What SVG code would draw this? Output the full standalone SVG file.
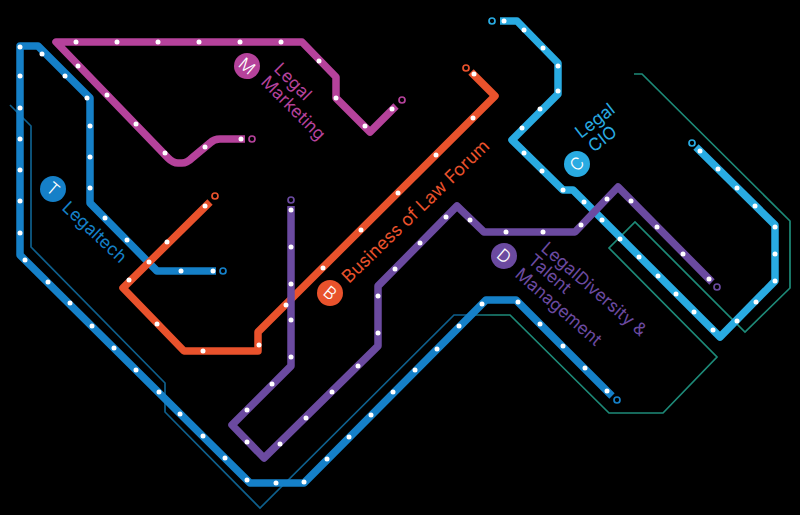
<svg xmlns="http://www.w3.org/2000/svg" width="800" height="515" viewBox="0 0 800 515">
<style>
.ln{fill:none;stroke-width:7.5;stroke-linejoin:round}
.thin{fill:none;stroke-width:1.7;stroke-linejoin:miter}
.dot{fill:#fff}
.ring{fill:none;stroke-width:1.7}
.lb{font-family:"Inter","Liberation Sans",sans-serif;font-size:17.4px;font-weight:400}
.bd{font-family:"Inter","Liberation Sans",sans-serif;font-size:17px;font-weight:300;fill:#fff;text-anchor:middle}
.t{stroke:#1580c8}.m{stroke:#b5429b}.b{stroke:#e9522c}.d{stroke:#6b4aa0}.c{stroke:#29abe2}
</style>
<defs>
<linearGradient id="g" gradientUnits="userSpaceOnUse" x1="465" y1="0" x2="495" y2="0"><stop offset="0" stop-color="#0e5f8c"/><stop offset="1" stop-color="#1d8a78"/></linearGradient>
<circle id="p" r="2.5" class="dot"/>
</defs>
<rect width="800" height="515" fill="#000"/>
<g id="connectors">
<path class="thin" stroke="url(#g)" d="M10 105L31 126V247L165 383V412L260 508L454 315H510L609 413H663L717 357L609 248L635 222L745 332L790 288V221L642 74H634"/>
<path class="ln c" d="M500 21H517L558 63V94L512 140L563 190H573L720 337L775 281V225L696 147"/>
<path class="ln m" d="M245 139H220Q214 139 210 143L192 158Q187 163 182 163H178Q173 163 168 158L56 42H302L336 77V98L370 132L396 106"/>
<path class="ln t" d="M216 271H157L90 203V98L38 46H20V255L250 483H304L486 300H516L612 396"/>
<path class="ln b" d="M471 72L495 96L258 332V351H184L123 288L210 202"/>
<path class="ln d" d="M291 206V366L232 425L264 458L378 346V286L457 206L484 232H575L618 187L712 282"/>
</g>
<g id="stations">
<g id="line-t-stops"><circle cx="223" cy="271" r="3" class="ring t"/><use href="#p" x="20" y="47"/><use href="#p" x="20" y="76"/><use href="#p" x="20" y="108"/><use href="#p" x="20" y="139"/><use href="#p" x="20" y="170"/><use href="#p" x="20" y="201"/><use href="#p" x="20" y="233"/><use href="#p" x="25" y="260"/><use href="#p" x="48" y="282"/><use href="#p" x="70" y="303"/><use href="#p" x="92" y="326"/><use href="#p" x="114" y="348"/><use href="#p" x="136" y="370"/><use href="#p" x="159" y="392"/><use href="#p" x="180" y="414"/><use href="#p" x="203" y="436"/><use href="#p" x="225" y="458"/><use href="#p" x="247" y="480"/><use href="#p" x="276" y="483"/><use href="#p" x="304" y="482"/><use href="#p" x="327" y="459"/><use href="#p" x="349" y="437"/><use href="#p" x="371" y="415"/><use href="#p" x="393" y="392"/><use href="#p" x="415" y="370"/><use href="#p" x="437" y="349"/><use href="#p" x="459" y="326"/><use href="#p" x="482" y="304"/><use href="#p" x="518" y="302"/><use href="#p" x="540" y="324"/><use href="#p" x="563" y="346"/><use href="#p" x="585" y="368"/><use href="#p" x="607" y="391"/><circle cx="617" cy="400" r="3" class="ring t"/><use href="#p" x="42" y="54"/><use href="#p" x="65" y="76"/><use href="#p" x="87" y="98"/><use href="#p" x="90" y="126"/><use href="#p" x="90" y="157"/><use href="#p" x="90" y="188"/><use href="#p" x="105" y="218"/><use href="#p" x="127" y="240"/><use href="#p" x="149" y="262"/><use href="#p" x="181" y="271"/><use href="#p" x="213" y="271"/></g>
<g id="line-m-stops"><use href="#p" x="76" y="42"/><use href="#p" x="117" y="42"/><use href="#p" x="158" y="42"/><use href="#p" x="199" y="42"/><use href="#p" x="240" y="42"/><use href="#p" x="281" y="42"/><use href="#p" x="319" y="61"/><use href="#p" x="336" y="98"/><use href="#p" x="365" y="126"/><use href="#p" x="392" y="109"/><circle cx="402" cy="100" r="3" class="ring m"/><use href="#p" x="78" y="66"/><use href="#p" x="107" y="95"/><use href="#p" x="136" y="124"/><use href="#p" x="165" y="153"/><use href="#p" x="205" y="147"/><use href="#p" x="241" y="139"/><circle cx="252" cy="139" r="3" class="ring m"/></g>
<g id="line-b-stops"><circle cx="466" cy="68" r="3" class="ring b"/><use href="#p" x="474" y="74"/><use href="#p" x="473" y="118"/><use href="#p" x="436" y="155"/><use href="#p" x="398" y="193"/><use href="#p" x="361" y="230"/><use href="#p" x="323" y="268"/><use href="#p" x="286" y="305"/><use href="#p" x="259" y="345"/><use href="#p" x="203" y="351"/><use href="#p" x="157" y="324"/><use href="#p" x="129" y="280"/><use href="#p" x="167" y="242"/><use href="#p" x="205" y="206"/><circle cx="215" cy="196" r="3" class="ring b"/></g>
<g id="line-d-stops"><circle cx="291" cy="200" r="3" class="ring d"/><use href="#p" x="291" y="210"/><use href="#p" x="291" y="247"/><use href="#p" x="291" y="284"/><use href="#p" x="291" y="320"/><use href="#p" x="291" y="357"/><use href="#p" x="272" y="384"/><use href="#p" x="247" y="410"/><use href="#p" x="247" y="442"/><use href="#p" x="280" y="444"/><use href="#p" x="306" y="418"/><use href="#p" x="332" y="392"/><use href="#p" x="358" y="366"/><use href="#p" x="378" y="333"/><use href="#p" x="378" y="296"/><use href="#p" x="395" y="269"/><use href="#p" x="420" y="243"/><use href="#p" x="446" y="217"/><use href="#p" x="470" y="220"/><use href="#p" x="506" y="232"/><use href="#p" x="543" y="232"/><use href="#p" x="581" y="225"/><use href="#p" x="607" y="199"/><use href="#p" x="631" y="201"/><use href="#p" x="657" y="227"/><use href="#p" x="683" y="254"/><use href="#p" x="709" y="279"/><circle cx="717" cy="287" r="3" class="ring d"/></g>
<g id="line-c-stops"><circle cx="492" cy="21" r="3" class="ring c"/><use href="#p" x="504" y="21"/><use href="#p" x="524" y="30"/><use href="#p" x="543" y="48"/><use href="#p" x="558" y="66"/><use href="#p" x="558" y="91"/><use href="#p" x="540" y="109"/><use href="#p" x="522" y="128"/><use href="#p" x="524" y="153"/><use href="#p" x="542" y="171"/><use href="#p" x="563" y="190"/><use href="#p" x="584" y="202"/><use href="#p" x="602" y="220"/><use href="#p" x="620" y="239"/><use href="#p" x="639" y="257"/><use href="#p" x="658" y="276"/><use href="#p" x="676" y="294"/><use href="#p" x="694" y="312"/><use href="#p" x="713" y="330"/><use href="#p" x="737" y="321"/><use href="#p" x="756" y="302"/><use href="#p" x="775" y="281"/><use href="#p" x="775" y="254"/><use href="#p" x="775" y="227"/><use href="#p" x="755" y="206"/><use href="#p" x="737" y="188"/><use href="#p" x="718" y="169"/><use href="#p" x="700" y="151"/><circle cx="692" cy="143" r="3" class="ring c"/></g>
</g>
<g id="node-m"><circle cx="247" cy="66" r="13" fill="#b5429b"/><text class="bd" transform="translate(247 66) rotate(40) translate(0 6)">M</text><text class="lb" fill="#b5429b" transform="translate(273 70) rotate(45)">Legal</text><text class="lb" fill="#b5429b" transform="translate(260 83) rotate(45)">Marketing</text></g>
<g id="node-t"><circle cx="53" cy="189" r="13" fill="#1580c8"/><text class="bd" transform="translate(53 189) rotate(40) translate(0 6)">T</text><text class="lb" fill="#1580c8" transform="translate(61 209) rotate(43)">Legaltech</text></g>
<g id="node-b"><circle cx="330" cy="293" r="13" fill="#e9522c"/><text class="bd" transform="translate(330 293) rotate(40) translate(0 6)">B</text><text class="lb" fill="#e9522c" transform="translate(349 284) rotate(-44)" style="font-size:17.9px">Business of Law Forum</text></g>
<g id="node-d"><circle cx="504" cy="256" r="13" fill="#6b4aa0"/><text class="bd" transform="translate(504 256) rotate(40) translate(0 6)">D</text><text class="lb" fill="#6b4aa0" transform="translate(540 250) rotate(41)">LegalDiversity &amp;</text><text class="lb" fill="#6b4aa0" transform="translate(527 262) rotate(41)">Talent</text><text class="lb" fill="#6b4aa0" transform="translate(514 276) rotate(41)">Management</text></g>
<g id="node-c"><circle cx="577" cy="164" r="13" fill="#29abe2"/><text class="bd" transform="translate(577 164) rotate(-45) translate(0 6)">C</text><text class="lb" fill="#29abe2" transform="translate(581 139) rotate(-38)">Legal</text><text class="lb" fill="#29abe2" transform="translate(594 153) rotate(-38)">CIO</text></g>
</svg>
